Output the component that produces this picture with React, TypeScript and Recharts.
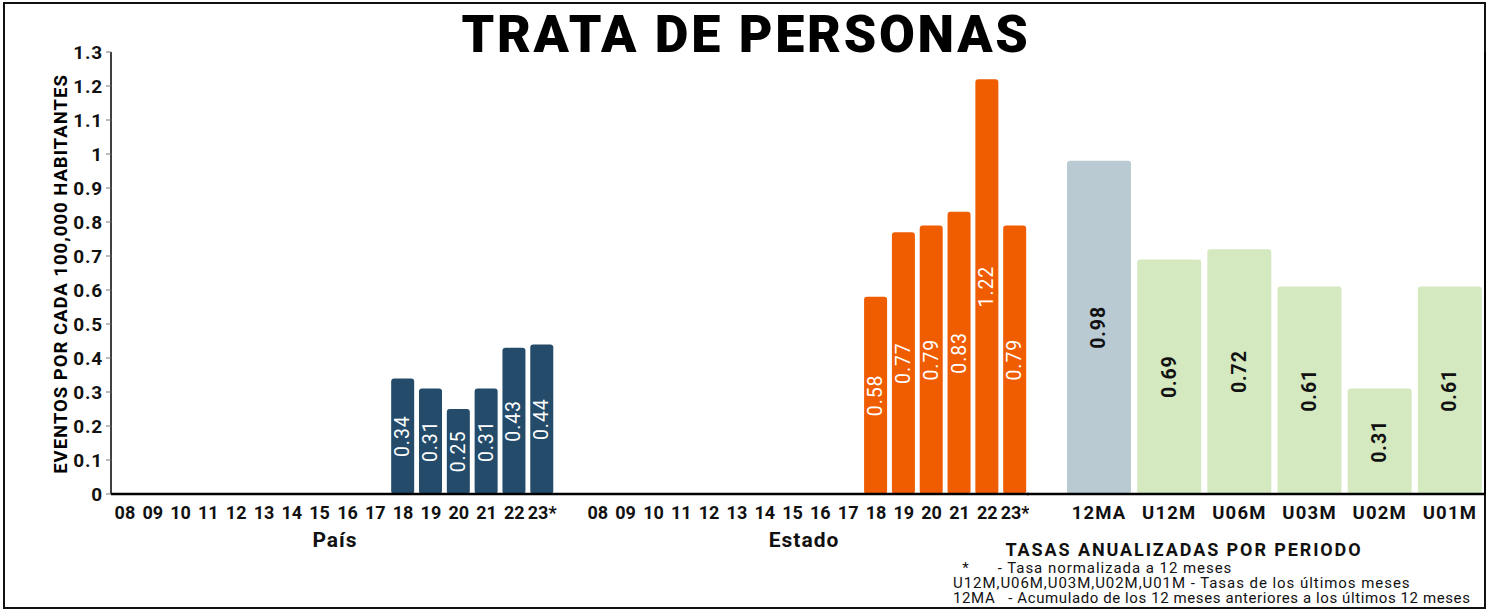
// Trata de personas — tasas por cada 100,000 habitantes (País, Estado y periodos)
import { BarChart, Bar, XAxis, YAxis, LabelList, Cell } from 'recharts';

const years = ['08', '09', '10', '11', '12', '13', '14', '15', '16', '17', '18', '19', '20', '21', '22', '23*'];
const paisValues = [null, null, null, null, null, null, null, null, null, null, 0.34, 0.31, 0.25, 0.31, 0.43, 0.44];
const estadoValues = [null, null, null, null, null, null, null, null, null, null, 0.58, 0.77, 0.79, 0.83, 1.22, 0.79];
const periodLabels = ['12MA', 'U12M', 'U06M', 'U03M', 'U02M', 'U01M'];
const periodValues = [0.98, 0.69, 0.72, 0.61, 0.31, 0.61];
const yTicks = [0, 0.1, 0.2, 0.3, 0.4, 0.5, 0.6, 0.7, 0.8, 0.9, 1, 1.1, 1.2, 1.3];
const notas = [
  '  *      - Tasa normalizada a 12 meses',
  'U12M,U06M,U03M,U02M,U01M - Tasas de los últimos meses',
  '12MA   - Acumulado de los 12 meses anteriores a los últimos 12 meses',
];

const PAIS_COLOR = '#244b6a';
const ESTADO_COLOR = '#f05c00';
const MA_COLOR = '#b9cad3';
const PERIOD_COLOR = '#d5e9c0';
const FONT = 'Roboto, "Noto Sans", sans-serif';

// filas del grafico izquierdo: País, separador, Estado
const leftRows = [
  ...years.map((y, i) => ({ label: y, pais: paisValues[i] })),
  { label: '' },
  ...years.map((y, i) => ({ label: y, estado: estadoValues[i] })),
];
const rightRows = periodLabels.map((p, i) => ({ label: p, value: periodValues[i] }));

const fmtTick = (v: number) => String(Number(v.toFixed(1)));

// etiqueta vertical centrada en la barra
const verticalLabel = (color: string, weight: number) => (props: any) => {
  const vb = props.viewBox || props;
  const x = vb.x ?? props.x;
  const y = vb.y ?? props.y;
  const w = vb.width ?? props.width;
  const h = vb.height ?? props.height;
  const value = props.value;
  if (value == null || !h) return null;
  const cx = x + w / 2;
  const cy = y + h / 2;
  return (
    <text
      x={cx}
      y={cy}
      transform={`rotate(-90 ${cx} ${cy})`}
      textAnchor="middle"
      dominantBaseline="central"
      fill={color}
      fontSize={19.5}
      fontWeight={weight}
      fontFamily={FONT}
      letterSpacing={0.9}
    >
      {Number(value).toFixed(2)}
    </text>
  );
};

export default function App() {
  return (
    <div style={{ position: 'absolute', left: 0, top: 0, width: 1500, height: 611, background: '#fff', fontFamily: FONT }}>
      {/* marco */}
      <div style={{ position: 'absolute', left: 3, top: 2, width: 1483, height: 607, border: '2px solid #111', boxSizing: 'border-box' }} />

      {/* título */}
      <div style={{ position: 'absolute', left: 0, width: 1492, top: 5, textAlign: 'center', fontSize: 52, fontWeight: 900, letterSpacing: 2.7, color: '#000', lineHeight: '60px' }}>
        TRATA DE PERSONAS
      </div>

      {/* etiqueta eje Y */}
      <div style={{ position: 'absolute', left: 61, top: 274, transform: 'translate(-50%, -50%) rotate(-90deg)', whiteSpace: 'nowrap', fontSize: 18.5, fontWeight: 700, letterSpacing: 1, color: '#000' }}>
        EVENTOS POR CADA 100,000 HABITANTES
      </div>

      <div style={{ position: 'absolute', left: 0, top: 0 }}>
        <BarChart width={1029} height={611} data={leftRows} margin={{ top: 52, right: 0, bottom: 87, left: 0 }} barSize={23}>
          <XAxis
            dataKey="label"
            interval={0}
            height={30}
            tickLine={false}
            tickMargin={6}
            axisLine={{ stroke: '#000', strokeWidth: 2.5 }}
            tick={{ fill: '#111', fontSize: 18, fontWeight: 700, fontFamily: FONT }}
          />
          <YAxis
            width={111}
            domain={[0, 1.3]}
            ticks={yTicks}
            interval={0}
            tickFormatter={fmtTick}
            tickSize={5}
            tickMargin={3}
            tickLine={{ stroke: '#777' }}
            axisLine={{ stroke: '#000', strokeWidth: 1.5 }}
            tick={{ fill: '#111', fontSize: 19, fontWeight: 700, fontFamily: FONT, letterSpacing: 0.8 }}
          />
          <Bar dataKey="pais" stackId="a" fill={PAIS_COLOR} radius={3} isAnimationActive={false}>
            <LabelList dataKey="pais" content={verticalLabel('#fff', 400)} />
          </Bar>
          <Bar dataKey="estado" stackId="a" fill={ESTADO_COLOR} radius={3} isAnimationActive={false}>
            <LabelList dataKey="estado" content={verticalLabel('#fff', 400)} />
          </Bar>
        </BarChart>
      </div>

      <div style={{ position: 'absolute', left: 1000, top: 0 }}>
        <BarChart width={500} height={611} data={rightRows} margin={{ top: 52, right: 15, bottom: 87, left: 27 }} barCategoryGap={3}>
          <XAxis
            dataKey="label"
            interval={0}
            height={30}
            padding={{ left: 37, right: 0 }}
            tickLine={false}
            tickMargin={6}
            axisLine={{ stroke: '#000', strokeWidth: 2.5 }}
            tick={{ fill: '#111', fontSize: 18.5, fontWeight: 700, fontFamily: FONT, letterSpacing: 1.2 }}
          />
          <YAxis
            yAxisId="r"
            orientation="right"
            mirror
            width={1}
            domain={[0, 1.3]}
            ticks={yTicks}
            interval={0}
            tick={false}
            tickSize={4}
            tickLine={{ stroke: '#888' }}
            axisLine={{ stroke: '#000', strokeWidth: 2 }}
          />
          <YAxis domain={[0, 1.3]} ticks={yTicks} hide />
          <Bar dataKey="value" radius={3} isAnimationActive={false}>
            {rightRows.map((r, i) => (
              <Cell key={r.label} fill={i === 0 ? MA_COLOR : PERIOD_COLOR} />
            ))}
            <LabelList dataKey="value" content={verticalLabel('#111', 700)} />
          </Bar>
        </BarChart>
      </div>

      {/* etiquetas de grupo */}
      <div style={{ position: 'absolute', left: 335, top: 528, transform: 'translateX(-50%)', fontSize: 21, fontWeight: 700, letterSpacing: 1, color: '#111' }}>País</div>
      <div style={{ position: 'absolute', left: 804, top: 528, transform: 'translateX(-50%)', fontSize: 21, fontWeight: 700, letterSpacing: 1, color: '#111' }}>Estado</div>

      {/* notas */}
      <div style={{ position: 'absolute', left: 1184, top: 539, transform: 'translateX(-50%)', whiteSpace: 'nowrap', fontSize: 18, fontWeight: 700, letterSpacing: 1.9, color: '#111' }}>
        TASAS ANUALIZADAS POR PERIODO
      </div>
      {notas.map((t, i) => (
        <div
          key={i}
          style={{
            position: 'absolute',
            left: 953,
            top: 561 + i * 15,
            whiteSpace: 'pre',
            fontSize: 15,
            lineHeight: '15px',
            color: '#111',
            letterSpacing: i === 2 ? 0.6 : 0.95,
          }}
        >
          {t}
        </div>
      ))}
    </div>
  );
}
